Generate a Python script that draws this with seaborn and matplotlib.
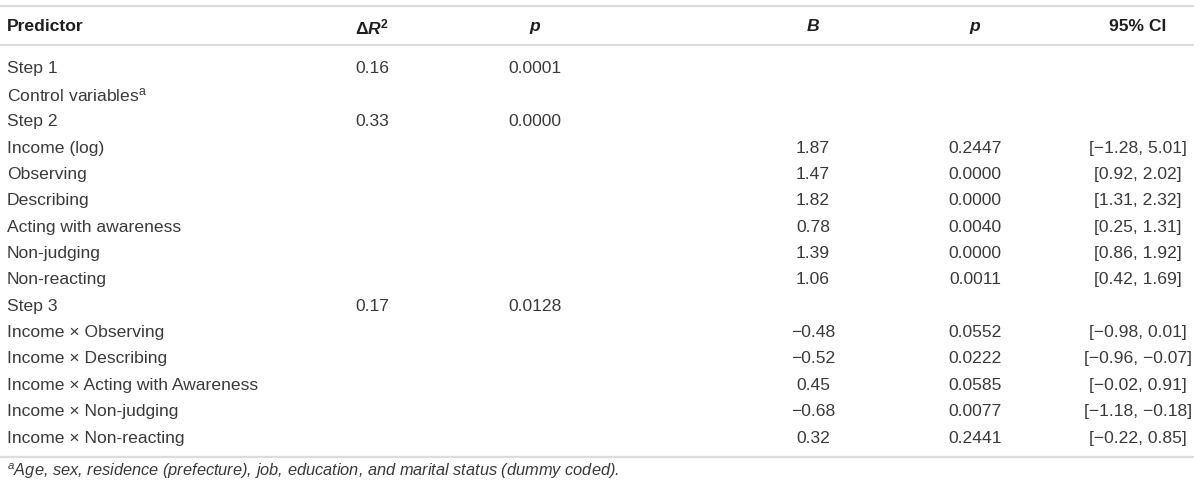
import numpy as np
import pandas as pd

import matplotlib
matplotlib.use("Agg")
import matplotlib.pyplot as plt
import seaborn as sns
sns.set_style("white")

plt.rcParams['font.family'] = ['Liberation Sans', 'DejaVu Sans']
plt.rcParams['mathtext.fontset'] = 'custom'
plt.rcParams['mathtext.rm'] = 'Liberation Sans'
plt.rcParams['mathtext.it'] = 'Liberation Sans:italic'
plt.rcParams['mathtext.bf'] = 'Liberation Sans:bold'
plt.rcParams['mathtext.bfit'] = 'Liberation Sans:italic:bold'


### table data

headers = ['Predictor', 'Δ$\\mathbfit{R}^{\\mathbf{2}}$', 'p', 'B', 'p', '95% CI']

predictors = ['Step 1', 'Control variables$^{\\mathrm{a}}$', 'Step 2', 'Income (log)',
              'Observing', 'Describing', 'Acting with awareness', 'Non-judging',
              'Non-reacting', 'Step 3', 'Income × Observing', 'Income × Describing',
              'Income × Acting with Awareness', 'Income × Non-judging',
              'Income × Non-reacting']

delta_r2 = [0.16, None, 0.33, None, None, None, None, None, None, 0.17,
            None, None, None, None, None]
p_step = [0.0001, None, 0.0000, None, None, None, None, None, None, 0.0128,
          None, None, None, None, None]
coef_b = [None, None, None, 1.87, 1.47, 1.82, 0.78, 1.39, 1.06, None,
          -0.48, -0.52, 0.45, -0.68, 0.32]
p_coef = [None, None, None, 0.2447, 0.0000, 0.0000, 0.0040, 0.0000, 0.0011, None,
          0.0552, 0.0222, 0.0585, 0.0077, 0.2441]
ci_low = [None, None, None, -1.28, 0.92, 1.31, 0.25, 0.86, 0.42, None,
          -0.98, -0.96, -0.02, -1.18, -0.22]
ci_high = [None, None, None, 5.01, 2.02, 2.32, 1.31, 1.92, 1.69, None,
           0.01, -0.07, 0.91, -0.18, 0.85]

footnote = '$^{a}$Age, sex, residence (prefecture), job, education, and marital status (dummy coded).'

df = pd.DataFrame({'predictor': predictors, 'dr2': delta_r2, 'p1': p_step,
                   'b': coef_b, 'p2': p_coef, 'lo': ci_low, 'hi': ci_high})


def fmt(v, nd):
    #format a number with a real minus sign, blank for missing
    if v is None or pd.isna(v):
        return ''
    return '{:.{}f}'.format(v, nd).replace('-', '\u2212')


def fmt_ci(lo, hi):
    if lo is None or pd.isna(lo):
        return ''
    return '[{}, {}]'.format(fmt(lo, 2), fmt(hi, 2))


### draw the table

fig = plt.figure(figsize=(12, 4.91), dpi=100)
ax = fig.add_axes([0, 0, 1, 1])
ax.set_xlim(0, 1200)
# rows sit at integer y, header above them
row_h = 26.36
first = 69
ax.set_ylim((491 - first) / row_h, -first / row_h)
ax.axis('off')

text_col = '#3a3a3a'
head_col = '#1f1f1f'
line_col = '#dcdcdc'
fs = 12.6

# column anchors (x, alignment)
cols = [(7, 'left'), (372, 'center'), (535, 'center'),
        (813, 'center'), (975, 'center'), (1138, 'center')]

head_y = (27 - first) / row_h
for (x, ha), h in zip(cols, headers):
    style = 'italic' if h in ('p', 'B') else 'normal'
    ax.text(x, head_y, h, ha=ha, va='center', fontsize=fs, fontweight='bold',
            fontstyle=style, color=head_col)

for i, r in df.iterrows():
    cells = [r['predictor'], fmt(r['dr2'], 2), fmt(r['p1'], 4),
             fmt(r['b'], 2), fmt(r['p2'], 4), fmt_ci(r['lo'], r['hi'])]
    for (x, ha), c in zip(cols, cells):
        if c:
            ax.text(x, i, c, ha=ha, va='center', fontsize=fs, color=text_col)

# rules
for py in (6, 45, 457):
    ax.axhline((py - first) / row_h, xmin=0, xmax=1193 / 1200, color=line_col, lw=1.6)

ax.text(7, (471 - first) / row_h, footnote, ha='left', va='center', fontsize=11.8,
        fontstyle='italic', color=text_col)

plt.savefig('out.png', dpi=100)
